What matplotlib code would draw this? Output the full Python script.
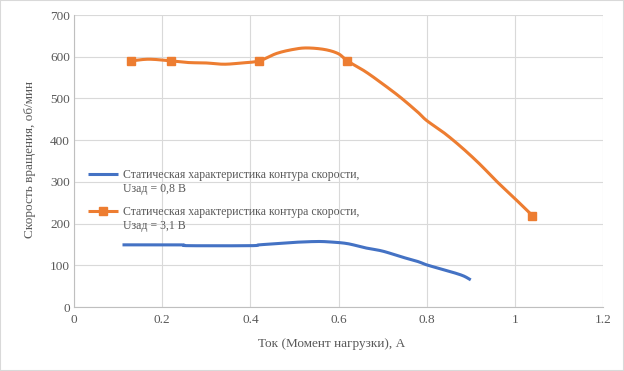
import numpy as np
import matplotlib
matplotlib.use("Agg")
import matplotlib.pyplot as plt
from matplotlib.lines import Line2D
from matplotlib.patches import Rectangle

# ---- data ----
blue_x = [0.11, 0.24, 0.26, 0.40, 0.42, 0.46, 0.50, 0.55, 0.58, 0.62, 0.66, 0.70, 0.74, 0.78, 0.80, 0.84, 0.88, 0.90]
blue_y = [149, 149, 147, 147, 149, 152, 155, 157, 156, 152, 142, 134, 121, 109, 101, 89, 76, 65]

orange_x = [0.13, 0.17, 0.22, 0.26, 0.30, 0.34, 0.38, 0.42, 0.46, 0.50, 0.53, 0.57, 0.60, 0.62,
            0.66, 0.70, 0.74, 0.78, 0.80, 0.84, 0.88, 0.92, 0.96, 1.00, 1.04]
orange_y = [590, 594, 590, 586, 585, 582, 585, 590, 608, 618, 621, 617, 607, 590,
            565, 535, 503, 467, 447, 417, 382, 343, 300, 260, 219]

marker_x = [0.13, 0.22, 0.42, 0.62, 1.04]
marker_y = [590, 590, 590, 590, 219]

x_ticks = [0, 0.2, 0.4, 0.6, 0.8, 1, 1.2]
x_tick_labels = ["0", "0.2", "0.4", "0.6", "0.8", "1", "1.2"]
y_ticks = [0, 100, 200, 300, 400, 500, 600, 700]

label_blue = "Статическая характеристика контура скорости,\nUзад = 0,8 В"
label_orange = "Статическая характеристика контура скорости,\nUзад = 3,1 В"
x_label = "Ток (Момент нагрузки), А"
y_label = "Скорость вращения, об/мин"


def smooth(xs, ys, n=12):
    """Catmull-Rom rendering of a polyline (Excel-like smoothing)."""
    p = np.column_stack([xs, ys]).astype(float)
    p = np.vstack([p[0] * 2 - p[1], p, p[-1] * 2 - p[-2]])
    out = []
    t = np.linspace(0, 1, n, endpoint=False)[:, None]
    for i in range(1, len(p) - 2):
        p0, p1, p2, p3 = p[i - 1], p[i], p[i + 1], p[i + 2]
        seg = 0.5 * ((2 * p1) + (-p0 + p2) * t + (2 * p0 - 5 * p1 + 4 * p2 - p3) * t ** 2
                     + (-p0 + 3 * p1 - 3 * p2 + p3) * t ** 3)
        out.append(seg)
    out.append(p[-2][None, :])
    out = np.vstack(out)
    return out[:, 0], out[:, 1]


plt.rcParams['font.family'] = ['Liberation Serif', 'DejaVu Serif']
text_color = "#595959"
blue = "#4472C4"
orange = "#ED7D31"
W, H = 624, 371

fig = plt.figure(figsize=(6.24, 3.71), dpi=100)
ax = fig.add_axes([74 / W, 1 - 307 / H, (603 - 74) / W, (307 - 15) / H])

bx, by = smooth(blue_x, blue_y)
ox, oy = smooth(orange_x, orange_y)
ax.plot(bx, by, color=blue, lw=2.2, solid_capstyle='butt', zorder=3)
ax.plot(ox, oy, color=orange, lw=2.2, solid_capstyle='butt', zorder=3)
ax.plot(marker_x, marker_y, ls='none', marker='s', ms=5.5, color=orange, zorder=4)

ax.set_xlim(0, 1.2)
ax.set_ylim(0, 700)
ax.set_xticks(x_ticks)
ax.set_xticklabels(x_tick_labels)
ax.set_yticks(y_ticks)
ax.grid(True, color="#D9D9D9", lw=0.8)
ax.set_axisbelow(True)
for s in ["top", "right"]:
    ax.spines[s].set_visible(False)
for s in ["left", "bottom"]:
    ax.spines[s].set_color("#BFBFBF")
    ax.spines[s].set_linewidth(0.8)
ax.tick_params(length=0, labelsize=9.5, labelcolor=text_color)
ax.tick_params(axis='x', pad=5)
ax.tick_params(axis='y', pad=3)

fig.text(332 / W, 1 - 344 / H, x_label, ha='center', va='center', fontsize=9.5, color=text_color)
fig.text(30 / W, 1 - 160 / H, y_label, ha='center', va='center', rotation=90, fontsize=9.5,
         color=text_color)

# legend drawn in figure pixel positions (handle aligned with first text line, as in Excel)
entries = [(label_blue, blue, None, 174), (label_orange, orange, 's', 211)]
for label, col, mk, ypx in entries:
    fig.add_artist(Line2D([88 / W, 118 / W], [1 - ypx / H, 1 - ypx / H], color=col, lw=2.2,
                          solid_capstyle='butt', transform=fig.transFigure))
    if mk:
        fig.add_artist(Line2D([103 / W], [1 - ypx / H], ls='none', marker=mk, ms=5.5, color=col,
                              transform=fig.transFigure))
    for k, line in enumerate(label.split("\n")):
        fig.text(123 / W, 1 - (ypx + 14 * k) / H, line, ha='left', va='center_baseline',
                 fontsize=8.5, color=text_color)

fig.patches.append(Rectangle((0, 0), 1, 1, transform=fig.transFigure, fill=False,
                             edgecolor="#D9D9D9", lw=1.5))

fig.savefig("out.png", dpi=100)
